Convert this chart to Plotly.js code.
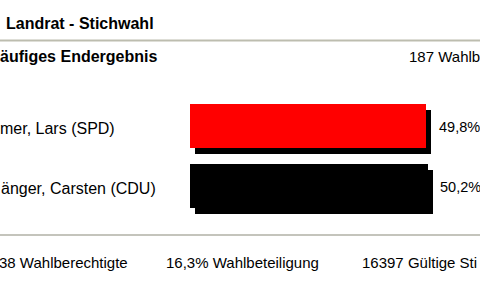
<!DOCTYPE html>
<html>
<head>
<meta charset="utf-8">
<script src="https://cdn.plot.ly/plotly-3.0.1.min.js"></script>
<style>html,body{margin:0;padding:0;background:#fff;}#chart{width:480px;height:300px;}</style>
</head>
<body>
<div id="chart"></div>
<script>
// ---- data ----
var chartTitle = "Landrat - Stichwahl";
var subTitle = "äufiges Endergebnis";
var districtsText = "187 Wahlb";
var candidates = ["mer, Lars (SPD)", "änger, Carsten (CDU)"];
var shares = [49.8, 50.2];
var barColors = ["#ff0000", "#000000"];
var footerStats = ["38 Wahlberechtigte", "16,3% Wahlbeteiligung", "16397 Gültige Sti"];

// ---- layout helpers ----
var W = 480, H = 300;
var FONT = "Liberation Sans, Arial, sans-serif";
var x0px = 190;                 // pixel of value 0
var pxPerUnit = 236 / 49.8;     // pixels per percent
var xMax = (W - x0px) / pxPerUnit;
var shadowDx = 5, shadowDy = 6;
var yTop = 96, yBot = 216;      // pixel band for the two categories
var unitPx = (yBot - yTop) / 2;

var fmt = function (v) { return v.toFixed(1).replace(".", ",") + "%"; };

// shadow on the base axes (drawn first, underneath)
var shadowTrace = {
  type: "bar", orientation: "h",
  x: shares, y: candidates,
  marker: { color: "#000000", line: { width: 0 } },
  width: 0.72, hoverinfo: "none",
  xaxis: "x", yaxis: "y"
};
// main bars on the overlaying axes (drawn on top)
var mainTrace = {
  type: "bar", orientation: "h",
  x: shares, y: candidates,
  marker: { color: barColors, line: { width: 0 } },
  width: 0.72, hoverinfo: "none",
  xaxis: "x2", yaxis: "y2"
};

var annotations = [];
annotations.push({ xref: "paper", yref: "paper", x: 4 / W, y: 1 - 24 / H, xanchor: "left", yanchor: "middle",
  text: "<b>" + chartTitle + "</b>", showarrow: false, font: { family: FONT, size: 16, color: "#000" } });
annotations.push({ xref: "paper", yref: "paper", x: -2 / W, y: 1 - 57 / H, xanchor: "left", yanchor: "middle",
  text: "<b>" + subTitle + "</b>", showarrow: false, font: { family: FONT, size: 16, color: "#000" } });
annotations.push({ xref: "paper", yref: "paper", x: 407 / W, y: 1 - 57 / H, xanchor: "left", yanchor: "middle",
  text: districtsText, showarrow: false, font: { family: FONT, size: 15, color: "#000" } });

candidates.forEach(function (c, i) {
  annotations.push({ xref: "paper", yref: "y2", x: (i === 0 ? -2 : -1) / W, y: c, xanchor: "left", yanchor: "middle",
    yshift: -2, text: c, showarrow: false, font: { family: FONT, size: 16, color: "#000" } });
  annotations.push({ xref: "x2", yref: "y2", x: shares[i], y: c, xanchor: "left", yanchor: "middle",
    xshift: 11 - i, yshift: -1, text: fmt(shares[i]), showarrow: false, font: { family: FONT, size: 14.5, color: "#000" } });
});

var footerX = [-3, 164, 360];
footerStats.forEach(function (s, i) {
  annotations.push({ xref: "paper", yref: "paper", x: footerX[i] / W, y: 1 - 262 / H, xanchor: "left", yanchor: "middle",
    text: s, showarrow: false, font: { family: FONT, size: 15, color: "#000" } });
});

var layout = {
  width: W, height: H,
  margin: { l: 0, r: 0, t: 0, b: 0, pad: 0 },
  paper_bgcolor: "#ffffff", plot_bgcolor: "rgba(0,0,0,0)",
  showlegend: false, bargap: 0,
  xaxis: { domain: [x0px / W, 1], range: [-shadowDx / pxPerUnit, xMax - shadowDx / pxPerUnit], visible: false, fixedrange: true },
  yaxis: { domain: [1 - yBot / H, 1 - yTop / H], type: "category", range: [1.5 - shadowDy / unitPx, -0.5 - shadowDy / unitPx], visible: false, fixedrange: true },
  xaxis2: { domain: [x0px / W, 1], range: [0, xMax], visible: false, overlaying: "x", anchor: "y2" },
  yaxis2: { domain: [1 - yBot / H, 1 - yTop / H], type: "category", range: [1.5, -0.5], visible: false, overlaying: "y", anchor: "x2" },
  shapes: [
    { type: "line", xref: "paper", yref: "paper", x0: 0, x1: 1, y0: 1 - 40.5 / H, y1: 1 - 40.5 / H, line: { color: "#bdbdaf", width: 2 } },
    { type: "line", xref: "paper", yref: "paper", x0: 0, x1: 1, y0: 1 - 235 / H, y1: 1 - 235 / H, line: { color: "#c4c4bc", width: 2 } }
  ],
  annotations: annotations
};

Plotly.newPlot("chart", [shadowTrace, mainTrace], layout, { staticPlot: true, displayModeBar: false });
</script>
</body>
</html>
